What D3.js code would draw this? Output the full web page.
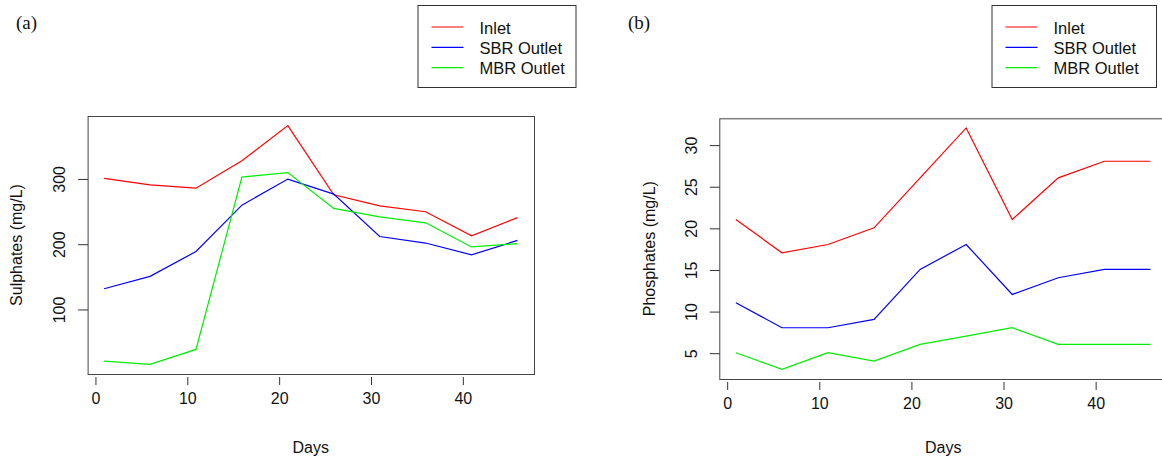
<html>
<head>
  <script src="https://d3js.org/d3.v7.min.js"></script>
  <style>
    body { margin: 0; background: white; }
    text { font-family: "Liberation Sans", Arial, sans-serif; }
  </style>
</head>
<body>
  <svg id="chart" width="1162" height="464"></svg>
  <script>
    const days = [1, 6, 11, 16, 21, 26, 31, 36, 41, 46];
    const seriesNames = ["Inlet", "SBR Outlet", "MBR Outlet"];
    const seriesColors = ["#ff0000", "#0000ff", "#00ee00"];

    const sulphInlet = [300, 290, 285, 327, 381, 275, 258, 249, 212, 240];
    const sulphSBR = [131, 150, 188, 259, 299, 276, 211, 201, 183, 205];
    const sulphMBR = [20, 15, 38, 302, 309, 254, 241, 232, 195, 200];

    const phosInlet = [21, 17, 18, 20, 26, 32, 21, 26, 28, 28];
    const phosSBR = [11, 8, 8, 9, 15, 18, 12, 14, 15, 15];
    const phosMBR = [5, 3, 5, 4, 6, 7, 8, 6, 6, 6];

    const xTicks = [0, 10, 20, 30, 40];
    const sulphTicks = [100, 200, 300];
    const phosTicks = [5, 10, 15, 20, 25, 30];

    const svg = d3.select("svg#chart");

    // R style: pad the data range by 4% on each side
    function rDomain(vals) {
      let ext = d3.extent(vals);
      let pad = (ext[1] - ext[0]) * 0.04;
      return [ext[0] - pad, ext[1] + pad];
    }

    function drawPanel(p) {
      let g = svg.append("g");
      const x = d3.scaleLinear().domain(rDomain(days)).range([p.left, p.right]);
      const y = d3.scaleLinear().domain(rDomain(p.series.flat())).range([p.bottom, p.top]);

      // lines
      const line = d3.line().x((d, i) => x(days[i])).y(d => y(d));
      p.series.forEach((s, i) => {
        g.append("path")
          .attr("d", line(s))
          .attr("fill", "none")
          .attr("stroke", seriesColors[i])
          .attr("stroke-width", 1.2);
      });

      // box
      g.append("rect")
        .attr("x", p.left + 0.5)
        .attr("y", p.top + 0.5)
        .attr("width", p.right - p.left)
        .attr("height", p.bottom - p.top)
        .attr("fill", "none")
        .attr("stroke", "#444");

      // x axis (ticks hang below the box)
      let xAxis = g.append("g")
        .attr("transform", `translate(0.5,${p.bottom + 3})`)
        .call(d3.axisBottom(x).tickValues(xTicks).tickSize(8).tickSizeOuter(0).tickFormat(d3.format("d")));
      xAxis.select(".domain").remove();
      xAxis.selectAll("line").attr("stroke", "#333");
      xAxis.selectAll("text")
        .attr("y", 27).attr("dy", null)
        .style("font-size", "16px").attr("fill", "#111");

      // y axis, labels rotated as in R
      let yAxis = g.append("g")
        .attr("transform", `translate(${p.left + 0.5},0.5)`)
        .call(d3.axisLeft(y).tickValues(p.yTicks).tickSize(10).tickFormat(d3.format("d")));
      yAxis.select(".domain").remove();
      yAxis.selectAll("line").attr("stroke", "#333");
      yAxis.selectAll("text")
        .attr("x", null).attr("dy", null)
        .attr("transform", `translate(${p.tickLabelX - p.left},0) rotate(-90)`)
        .attr("text-anchor", "middle")
        .style("font-size", "16px").attr("fill", "#111");

      // axis titles
      g.append("text")
        .attr("x", (p.left + p.right) / 2)
        .attr("y", 453)
        .attr("text-anchor", "middle")
        .style("font-size", "16px")
        .attr("fill", "#111")
        .text("Days");
      g.append("text")
        .attr("transform", `translate(${p.yLabelX},${(p.top + p.bottom) / 2}) rotate(-90)`)
        .attr("text-anchor", "middle")
        .style("font-size", "16px")
        .attr("fill", "#111")
        .text(p.yLabel);

      // panel letter
      g.append("text")
        .attr("x", p.letterX)
        .attr("y", 29)
        .style("font-family", "'Liberation Serif', 'Times New Roman', serif")
        .style("font-size", "19px")
        .attr("fill", "#111")
        .text(p.letter);

      // legend
      let lg = g.append("g");
      lg.append("rect")
        .attr("x", p.legX + 0.5).attr("y", 5.5)
        .attr("width", p.legW).attr("height", 82)
        .attr("fill", "white").attr("stroke", "#333");
      seriesNames.forEach((name, i) => {
        let ly = 27 + i * 20.3;
        lg.append("line")
          .attr("x1", p.legX + 14).attr("x2", p.legX + 46)
          .attr("y1", ly).attr("y2", ly)
          .attr("stroke", seriesColors[i])
          .attr("stroke-width", 1.2);
        lg.append("text")
          .attr("x", p.legX + 62).attr("y", ly + 6.5)
          .style("font-size", "16.5px")
          .attr("fill", "#111")
          .text(name);
      });
    }

    drawPanel({
      left: 87.6, right: 534, top: 116, bottom: 374,
      series: [sulphInlet, sulphSBR, sulphMBR],
      yTicks: sulphTicks, yLabel: "Sulphates (mg/L)",
      tickLabelX: 64.5, yLabelX: 22,
      letter: "(a)", letterX: 16,
      legX: 417.5, legW: 158
    });

    drawPanel({
      left: 719.3, right: 1167, top: 118.3, bottom: 379,
      series: [phosInlet, phosSBR, phosMBR],
      yTicks: phosTicks, yLabel: "Phosphates (mg/L)",
      tickLabelX: 696.5, yLabelX: 655,
      letter: "(b)", letterX: 628,
      legX: 991.5, legW: 164.5
    });
  </script>
</body>
</html>
